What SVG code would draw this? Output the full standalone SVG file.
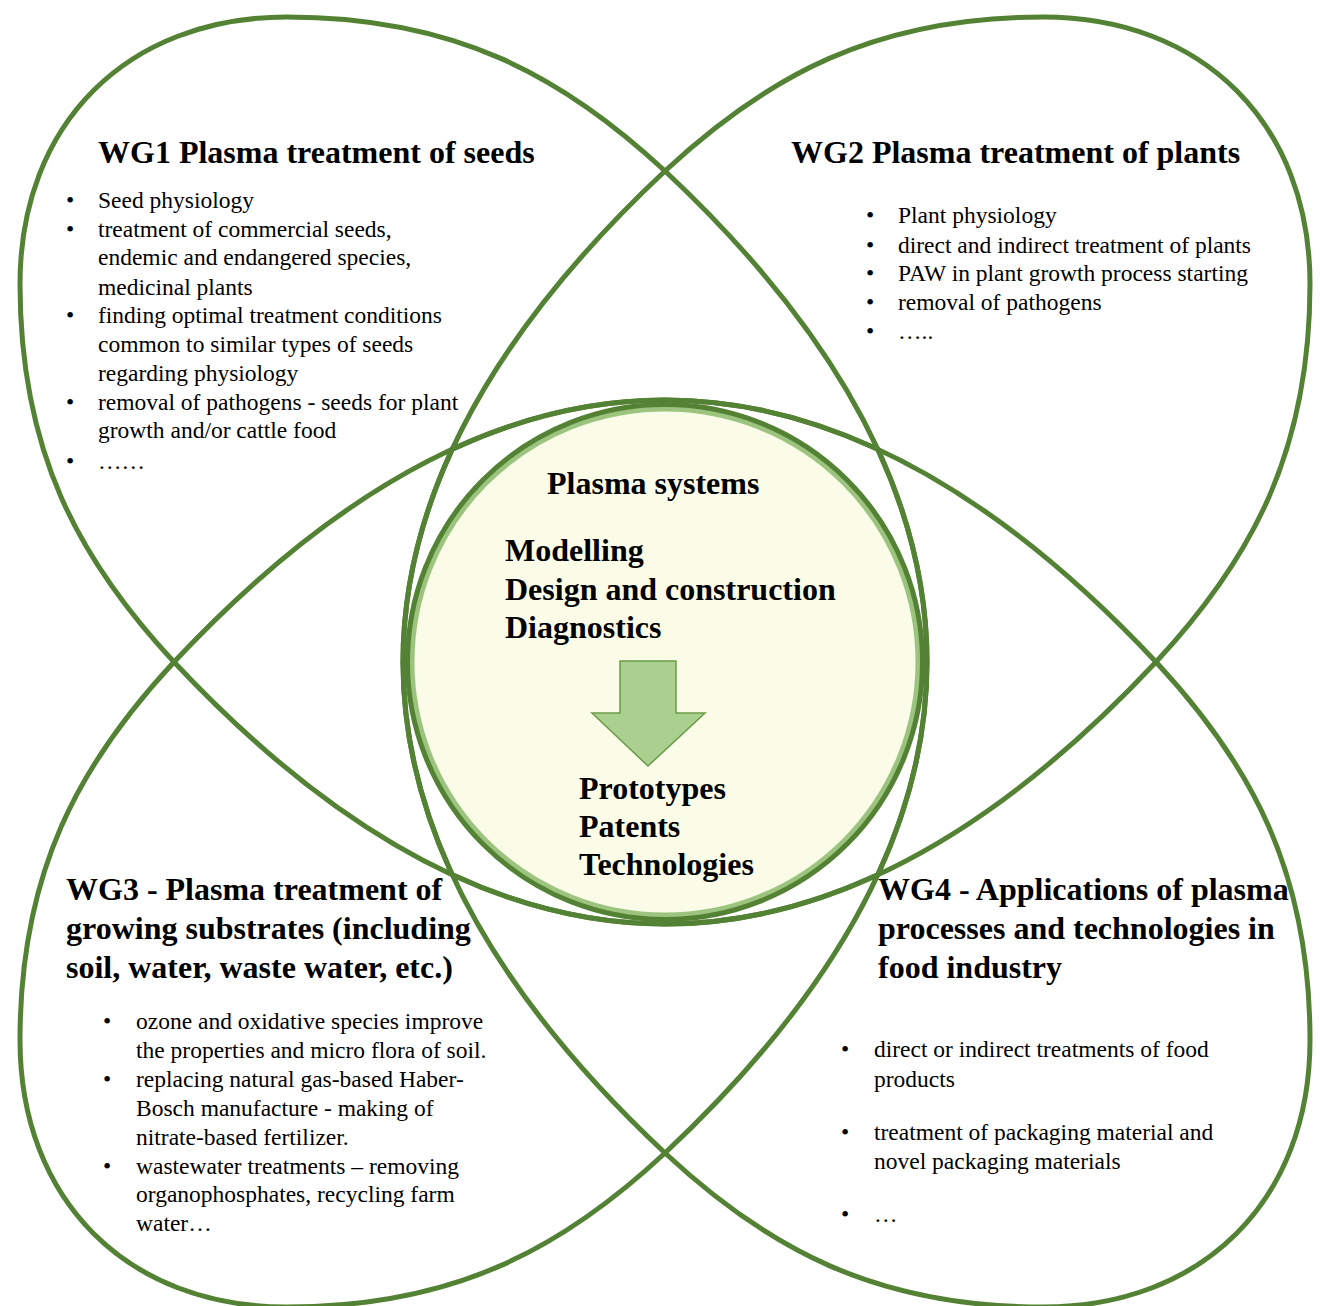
<svg xmlns="http://www.w3.org/2000/svg" width="1320" height="1306" viewBox="0 0 1320 1306">
<style>
.lobe{fill:none;stroke:#548235;stroke-width:5;stroke-linejoin:round}
.t{font-family:"Liberation Serif","Times New Roman",serif;fill:#000}
.h{font-size:32px;font-weight:700}
.b{font-size:23.5px}
</style>
<rect width="1320" height="1306" fill="#fff"/>
<g id="center">
<circle cx="665" cy="662" r="256" fill="#FAFCE8"/>
<circle cx="665" cy="662" r="253" fill="none" stroke="#9CC47F" stroke-width="5"/>
<circle cx="665" cy="662" r="257.5" fill="none" stroke="#548235" stroke-width="5"/>
<text class="t h" x="547" y="494">Plasma systems</text>
<text class="t h" x="505" y="561">Modelling</text>
<text class="t h" x="505" y="600">Design and construction</text>
<text class="t h" x="505" y="638">Diagnostics</text>
<text class="t h" x="579" y="799">Prototypes</text>
<text class="t h" x="579" y="837">Patents</text>
<text class="t h" x="579" y="875">Technologies</text>
</g>
<g id="connectors">
<polygon points="620,661 676,661 676,713 705,713 648,766 592,713 620,713" fill="#A9D08E" stroke="#6B9A48" stroke-width="1.5" stroke-linejoin="miter"/>
</g>
<g id="wg1">
<path class="lobe" d="M665,171 C563,76 455,17 287,17 C127,17 20,124 20,284 C20,452 79,560 174,662 Q525.9,1037.5 877.8,874.8 Q1040.5,522.9 665,171 Z"/>
<text class="t h" x="98" y="163">WG1  Plasma treatment of seeds</text>
<g class="t b">
<text x="66" y="208">•</text><text x="98" y="208">Seed physiology</text>
<text x="66" y="237">•</text><text x="98" y="237">treatment of commercial seeds,</text>
<text x="98" y="265">endemic and endangered species,</text>
<text x="98" y="295">medicinal plants</text>
<text x="66" y="323">•</text><text x="98" y="323">finding optimal treatment conditions</text>
<text x="98" y="352">common to similar types of seeds</text>
<text x="98" y="381">regarding physiology</text>
<text x="66" y="410">•</text><text x="98" y="410">removal of pathogens - seeds for plant</text>
<text x="98" y="438">growth and/or cattle food</text>
<text x="66" y="469">•</text><text x="98" y="469">……</text>
</g>
</g>
<g id="wg2">
<path class="lobe" transform="matrix(-1 0 0 1 1330 0)" d="M665,171 C563,76 455,17 287,17 C127,17 20,124 20,284 C20,452 79,560 174,662 Q525.9,1037.5 877.8,874.8 Q1040.5,522.9 665,171 Z"/>
<text class="t h" x="791" y="163">WG2  Plasma treatment of plants</text>
<g class="t b">
<text x="866" y="223">•</text><text x="898" y="223">Plant physiology</text>
<text x="866" y="253">•</text><text x="898" y="253">direct and indirect treatment of plants</text>
<text x="866" y="281">•</text><text x="898" y="281">PAW in plant growth process starting</text>
<text x="866" y="310">•</text><text x="898" y="310">removal of pathogens</text>
<text x="866" y="339">•</text><text x="898" y="339">…..</text>
</g>
</g>
<g id="wg3">
<path class="lobe" transform="matrix(1 0 0 -1 0 1324)" d="M665,171 C563,76 455,17 287,17 C127,17 20,124 20,284 C20,452 79,560 174,662 Q525.9,1037.5 877.8,874.8 Q1040.5,522.9 665,171 Z"/>
<text class="t h" x="66" y="900">WG3 - Plasma treatment of</text>
<text class="t h" x="66" y="939">growing substrates (including</text>
<text class="t h" x="66" y="978">soil, water, waste water, etc.)</text>
<g class="t b">
<text x="103" y="1029">•</text><text x="136" y="1029">ozone and oxidative species improve</text>
<text x="136" y="1058">the properties and micro flora of soil.</text>
<text x="103" y="1087">•</text><text x="136" y="1087">replacing natural gas-based Haber-</text>
<text x="136" y="1116">Bosch manufacture - making of</text>
<text x="136" y="1145">nitrate-based fertilizer.</text>
<text x="103" y="1174">•</text><text x="136" y="1174">wastewater treatments – removing</text>
<text x="136" y="1202">organophosphates, recycling farm</text>
<text x="136" y="1231">water…</text>
</g>
</g>
<g id="wg4">
<path class="lobe" transform="matrix(-1 0 0 -1 1330 1324)" d="M665,171 C563,76 455,17 287,17 C127,17 20,124 20,284 C20,452 79,560 174,662 Q525.9,1037.5 877.8,874.8 Q1040.5,522.9 665,171 Z"/>
<text class="t h" x="878" y="900">WG4 - Applications of plasma</text>
<text class="t h" x="878" y="939">processes and technologies in</text>
<text class="t h" x="878" y="978">food industry</text>
<g class="t b">
<text x="841" y="1057">•</text><text x="874" y="1057">direct or indirect treatments of food</text>
<text x="874" y="1087">products</text>
<text x="841" y="1140">•</text><text x="874" y="1140">treatment of packaging material and</text>
<text x="874" y="1169">novel packaging materials</text>
<text x="841" y="1222">•</text><text x="874" y="1222">…</text>
</g>
</g>
</svg>
